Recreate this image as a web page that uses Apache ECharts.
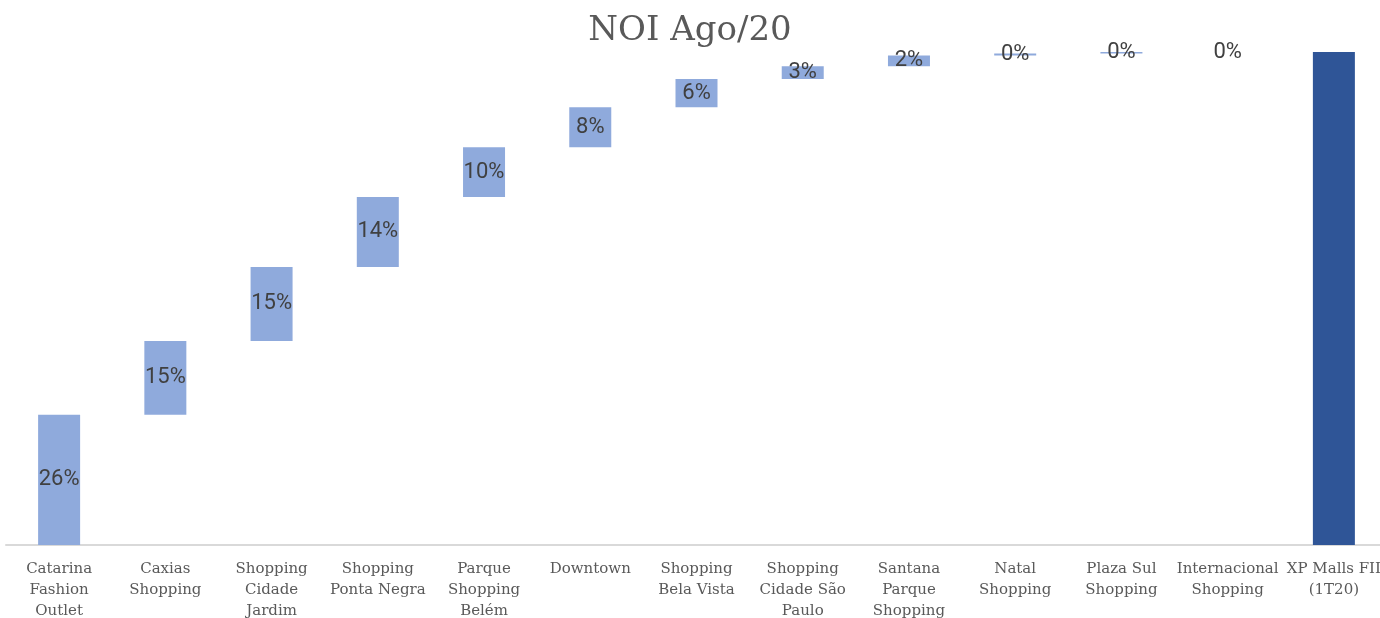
<!DOCTYPE html>
<html>
<head>
<meta charset="utf-8">
<script src="https://cdn.jsdelivr.net/npm/echarts@6/dist/echarts.min.js"></script>
<style>
  html, body { margin: 0; padding: 0; background: #fff; }
  #myChart { width: 1380px; height: 618px; }
</style>
</head>
<body>
<div id="myChart"></div>
<script>
// categorias do waterfall
var categories = [
  'Catarina\nFashion\nOutlet', 'Caxias\nShopping', 'Shopping\nCidade\nJardim', 'Shopping\nPonta Negra',
  'Parque\nShopping\nBelém', 'Downtown', 'Shopping\nBela Vista', 'Shopping\nCidade São\nPaulo',
  'Santana\nParque\nShopping', 'Natal\nShopping', 'Plaza Sul\nShopping', 'Internacional\nShopping',
  'XP Malls FII\n(1T20)'
]
// participação de cada shopping (%)
var shares = [26.4, 15.0, 15.0, 14.2, 10.1, 8.1, 5.7, 2.6, 2.2, 0.4, 0.3, 0.0]
var total = 100

var baseData = []
var stepData = []
var acc = 0
shares.forEach(function(v) {
  baseData.push(acc)
  stepData.push(v)
  acc += v
})
baseData.push(0)
stepData.push('-')
var totalData = categories.map(function(c, i) { return i === categories.length - 1 ? total : '-' })

var myChart = echarts.init(document.getElementById('myChart'))

var option = {
  animation: false,
  title: {
    text: 'NOI Ago/20',
    left: 'center',
    top: 9,
    textStyle: { fontFamily: 'DejaVu Serif', fontSize: 34, fontWeight: 'normal', color: '#595959' }
  },
  grid: { left: 6, right: -7, top: 52, bottom: 73, outerBoundsMode: 'none', containLabel: false },
  xAxis: {
    type: 'category',
    data: categories,
    axisLine: { lineStyle: { color: '#d9d9d9', width: 2 } },
    axisTick: { show: false },
    axisLabel: {
      interval: 0,
      margin: 14,
      fontFamily: 'DejaVu Serif',
      fontSize: 15,
      lineHeight: 21,
      color: '#595959'
    }
  },
  yAxis: {
    type: 'value',
    min: 0,
    max: 100,
    show: false
  },
  series: [
    {
      type: 'bar',
      stack: 'w',
      barWidth: 42,
      itemStyle: { color: 'transparent' },
      data: baseData,
      silent: true
    },
    {
      type: 'bar',
      stack: 'w',
      barWidth: 42,
      itemStyle: { color: '#8faadc' },
      label: {
        show: true,
        position: 'inside',
        fontFamily: 'Roboto',
        fontSize: 22,
        color: '#404040',
        formatter: function(p) { return Math.round(p.value) + '%' }
      },
      data: stepData
    },
    {
      type: 'bar',
      stack: 'w',
      barWidth: 42,
      itemStyle: { color: '#2f5597' },
      data: totalData
    }
  ]
}

myChart.setOption(option)
</script>
</body>
</html>
